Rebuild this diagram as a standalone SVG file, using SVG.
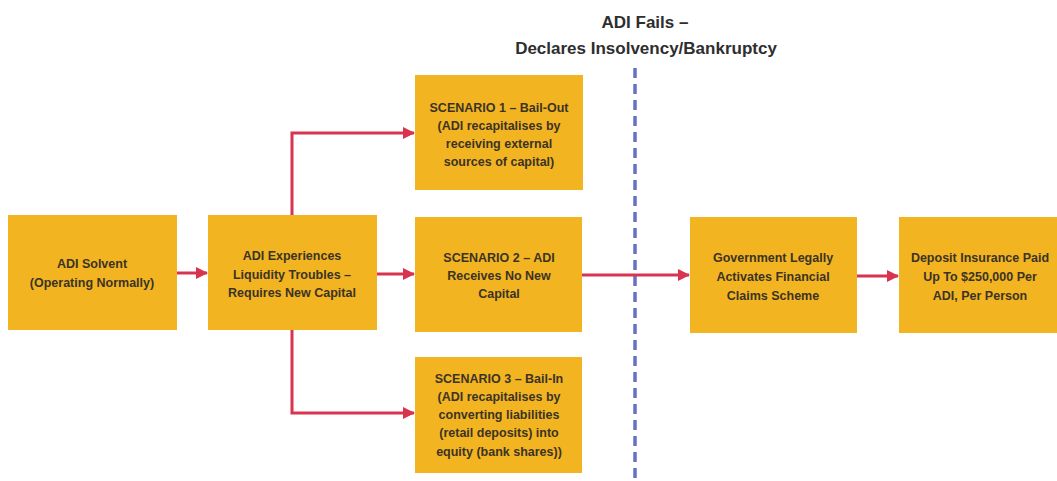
<svg xmlns="http://www.w3.org/2000/svg" width="1057" height="481" viewBox="0 0 1057 481">
<style>
.box{fill:#f3b422;}
.t{font-family:"Liberation Sans",Arial,sans-serif;font-weight:bold;font-size:12.5px;fill:#3b3324;text-anchor:middle;}
.h{font-family:"Liberation Sans",Arial,sans-serif;font-weight:bold;font-size:17px;fill:#2e2e2e;text-anchor:middle;}
.c{fill:none;stroke:#d8344f;stroke-width:3;}
</style>
<defs>
<marker id="ah" markerWidth="12" markerHeight="12" refX="11" refY="6" orient="auto" markerUnits="userSpaceOnUse">
<path d="M0,0 L12,6 L0,12 Z" fill="#d8344f"/>
</marker>
</defs>
<rect width="1057" height="481" fill="#ffffff"/>
<g id="title">
<text class="h" x="645" y="28">ADI Fails –</text>
<text class="h" x="646" y="54">Declares Insolvency/Bankruptcy</text>
</g>
<line id="divider" x1="635" y1="68" x2="635" y2="481" stroke="#6a6fc2" stroke-width="3.5" stroke-dasharray="10,6"/>
<g id="connectors">
<path class="c" d="M177,273 L207,273" marker-end="url(#ah)"/>
<path class="c" d="M292,215 L292,133 L414,133" marker-end="url(#ah)"/>
<path class="c" d="M377,274 L414,274" marker-end="url(#ah)"/>
<path class="c" d="M292,330 L292,413 L414,413" marker-end="url(#ah)"/>
<path class="c" d="M582,275 L689,275" marker-end="url(#ah)"/>
<path class="c" d="M857,276 L898,276" marker-end="url(#ah)"/>
</g>
<g id="n1">
<rect class="box" x="8" y="215" width="169" height="115"/>
<text class="t" x="92" y="268">ADI Solvent</text>
<text class="t" x="92" y="287">(Operating Normally)</text>
</g>
<g id="n2">
<rect class="box" x="208" y="215" width="169" height="115"/>
<text class="t" x="292" y="260">ADI Experiences</text>
<text class="t" x="292" y="279">Liquidity Troubles –</text>
<text class="t" x="292" y="297">Requires New Capital</text>
</g>
<g id="s1">
<rect class="box" x="415" y="75" width="168" height="115"/>
<text class="t" x="499" y="112">SCENARIO 1 – Bail-Out</text>
<text class="t" x="499" y="130">(ADI recapitalises by</text>
<text class="t" x="499" y="148">receiving external</text>
<text class="t" x="499" y="166">sources of capital)</text>
</g>
<g id="s2">
<rect class="box" x="415" y="217" width="167" height="115"/>
<text class="t" x="499" y="262">SCENARIO 2 – ADI</text>
<text class="t" x="499" y="280">Receives No New</text>
<text class="t" x="499" y="298">Capital</text>
</g>
<g id="s3">
<rect class="box" x="415" y="357" width="167" height="116"/>
<text class="t" x="499" y="383">SCENARIO 3 – Bail-In</text>
<text class="t" x="499" y="401">(ADI recapitalises by</text>
<text class="t" x="499" y="419">converting liabilities</text>
<text class="t" x="499" y="437">(retail deposits) into</text>
<text class="t" x="499" y="456">equity (bank shares))</text>
</g>
<g id="gov">
<rect class="box" x="690" y="217" width="167" height="116"/>
<text class="t" x="773" y="262">Government Legally</text>
<text class="t" x="773" y="281">Activates Financial</text>
<text class="t" x="773" y="300">Claims Scheme</text>
</g>
<g id="dep">
<rect class="box" x="899" y="217" width="158" height="116"/>
<text class="t" x="980" y="262">Deposit Insurance Paid</text>
<text class="t" x="980" y="281">Up To $250,000 Per</text>
<text class="t" x="980" y="300">ADI, Per Person</text>
</g>
</svg>
